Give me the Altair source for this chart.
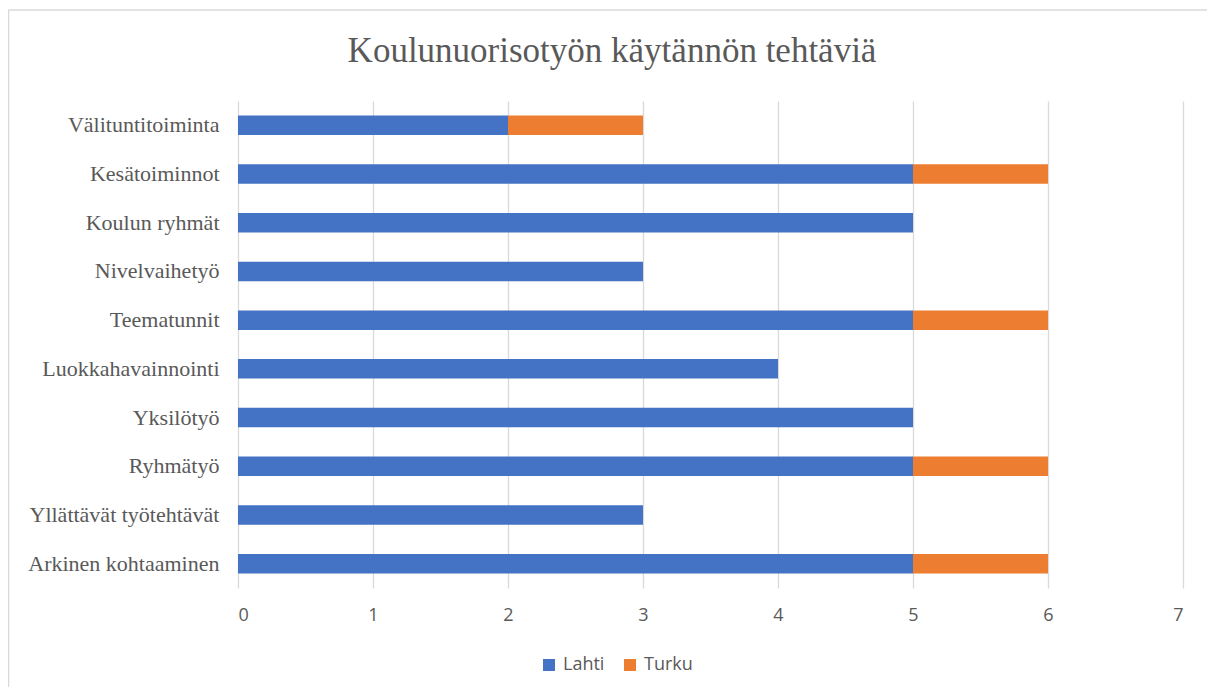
import altair as alt
import pandas as pd

title_text = "Koulunuorisotyön käytännön tehtäviä"
categories = [
    "Välituntitoiminta",
    "Kesätoiminnot\u00a0",
    "Koulun ryhmät",
    "Nivelvaihetyö",
    "Teematunnit",
    "Luokkahavainnointi",
    "Yksilötyö",
    "Ryhmätyö",
    "Yllättävät työtehtävät",
    "Arkinen kohtaaminen",
]
lahti = [2, 5, 5, 3, 5, 4, 5, 5, 3, 5]
turku = [1, 1, 0, 0, 1, 0, 0, 1, 0, 1]
series = ["Lahti", "Turku"]
colors = ["#4472C4", "#ED7D31"]
x_ticks = [0, 1, 2, 3, 4, 5, 6, 7]

rows = []
for c, l, t in zip(categories, lahti, turku):
    rows.append({"cat": c, "series": "Lahti", "value": l, "ord": 0})
    rows.append({"cat": c, "series": "Turku", "value": t, "ord": 1})
df = pd.DataFrame(rows)

text_color = "#595959"
grid_color = "#D9D9D9"

bars = alt.Chart(df).mark_bar().encode(
    y=alt.Y(
        "cat:N",
        sort=categories,
        title=None,
        scale=alt.Scale(paddingInner=0.6, paddingOuter=0.3),
        axis=alt.Axis(
            labelFont="Liberation Serif",
            labelFontSize=22,
            labelColor=text_color,
            labelPadding=19,
            labelLimit=400,
            ticks=False,
            domain=False,
            grid=False,
        ),
    ),
    x=alt.X(
        "value:Q",
        stack="zero",
        title=None,
        scale=alt.Scale(domain=[0, 7], nice=False),
        axis=alt.Axis(
            values=x_ticks,
            labelFont="Open Sans",
            labelFontSize=18,
            labelColor=text_color,
            labelPadding=18,
            ticks=False,
            domain=False,
            grid=True,
            gridColor=grid_color,
            gridWidth=1.3,
        ),
    ),
    color=alt.Color(
        "series:N",
        scale=alt.Scale(domain=series, range=colors),
        legend=alt.Legend(
            title=None,
            orient="none",
            direction="horizontal",
            legendX=302,
            legendY=555,
            symbolType="square",
            symbolSize=144,
            symbolStrokeWidth=0,
            labelFont="Open Sans",
            labelFontSize=18,
            labelColor=text_color,
            columnPadding=16,
            labelOffset=5,
        ),
    ),
    order=alt.Order("ord:Q"),
)

frame_data = alt.Data(values=[{"t": title_text}])
left_border = alt.Chart(frame_data).mark_rule(color=grid_color, strokeWidth=1.5).encode(
    x=alt.value(-229.5), y=alt.value(-91), y2=alt.value(590)
)
top_border = alt.Chart(frame_data).mark_rule(color=grid_color, strokeWidth=1.5).encode(
    x=alt.value(-229.5), x2=alt.value(970), y=alt.value(-91)
)
title = alt.Chart(frame_data).mark_text(
    font="Liberation Serif",
    fontSize=35,
    color=text_color,
    align="center",
    baseline="alphabetic",
).encode(text="t:N", x=alt.value(374), y=alt.value(-39))

chart = alt.layer(left_border, top_border, title, bars).properties(
    width=945,
    height=487,
    padding={"left": 230, "top": 93, "right": 24, "bottom": 99},
    autosize=alt.AutoSizeParams(type="none"),
).configure_view(stroke=None)

chart.save("out.html", embed_options={"renderer": "svg", "actions": False})
